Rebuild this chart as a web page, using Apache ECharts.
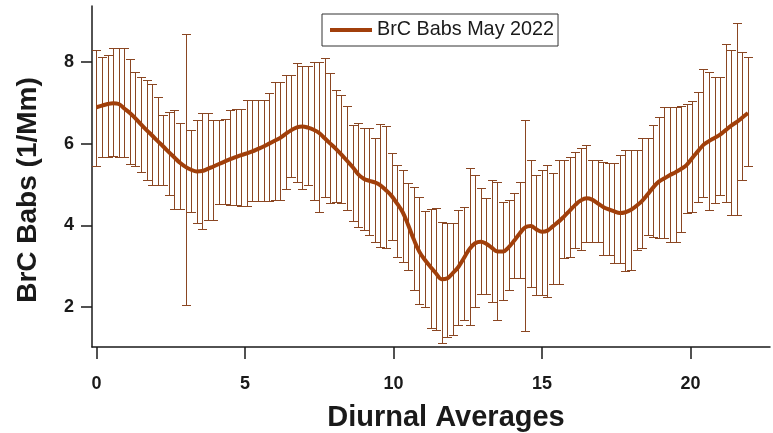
<!DOCTYPE html>
<html>
<head>
<meta charset="utf-8">
<script src="https://cdn.jsdelivr.net/npm/echarts@6/dist/echarts.min.js"></script>
<style>
  html, body { margin: 0; padding: 0; background: #ffffff; }
  #chart { width: 773px; height: 433px; }
</style>
</head>
<body>
<div id="chart"></div>
<script>
// Diurnal cycle of brown-carbon absorption, May 2022 (mean with spread bars)
const seriesName = 'BrC Babs May 2022';
const stepHours = 0.1875; // sampling step of the diurnal bins, in hours

const meanBabs = [
  6.89, 6.93, 6.97, 6.99, 6.97, 6.86, 6.75, 6.62, 6.47, 6.33,
  6.20, 6.06, 5.93, 5.79, 5.66, 5.53, 5.43, 5.36, 5.32, 5.33,
  5.38, 5.44, 5.50, 5.56, 5.62, 5.67, 5.72, 5.76, 5.81, 5.87,
  5.93, 6.00, 6.07, 6.14, 6.24, 6.33, 6.40, 6.42, 6.39, 6.34,
  6.26, 6.13, 6.00, 5.87, 5.73, 5.58, 5.43, 5.25, 5.14, 5.09,
  5.05, 4.98, 4.86, 4.72, 4.53, 4.32, 4.00, 3.65, 3.35, 3.15,
  2.98, 2.82, 2.68, 2.70, 2.83, 2.98, 3.20, 3.42, 3.56, 3.60,
  3.55, 3.45, 3.36, 3.36, 3.46, 3.62, 3.80, 3.95, 3.98, 3.90,
  3.84, 3.87, 3.98, 4.09, 4.22, 4.36, 4.50, 4.61, 4.66, 4.63,
  4.54, 4.45, 4.39, 4.34, 4.30, 4.32, 4.38, 4.48, 4.60, 4.76,
  4.93, 5.07, 5.15, 5.23, 5.30, 5.38, 5.48, 5.65, 5.81, 5.97,
  6.06, 6.14, 6.22, 6.33, 6.44, 6.53, 6.64, 6.75
];

const upperBabs = [
  8.29, 8.12, 8.17, 8.34, 8.34, 8.34, 8.07, 7.76, 7.64, 7.56,
  7.46, 7.15, 6.70, 6.78, 6.82, 6.50, 8.68, 6.33, 6.58, 6.74,
  6.74, 6.58, 6.58, 6.60, 6.82, 6.84, 6.86, 7.07, 7.07, 7.07,
  7.07, 7.23, 7.52, 7.52, 7.68, 7.68, 7.98, 7.89, 7.89, 8.01,
  8.01, 8.09, 7.72, 7.31, 7.19, 6.91, 6.46, 6.51, 6.38, 6.38,
  6.13, 6.48, 6.43, 5.78, 5.48, 5.35, 5.04, 4.95, 4.70, 4.36,
  4.39, 4.42, 4.09, 4.05, 4.05, 4.38, 4.46, 5.40, 5.23, 4.91,
  4.66, 5.11, 5.07, 4.58, 4.62, 4.78, 5.07, 6.58, 5.60, 5.23,
  5.35, 5.48, 5.27, 5.60, 5.60, 5.68, 5.80, 5.89, 5.97, 5.60,
  5.60, 5.56, 5.52, 5.52, 5.72, 5.84, 5.84, 5.84, 6.13, 6.13,
  6.46, 6.66, 6.89, 6.89, 6.89, 6.92, 6.97, 7.05, 7.27, 7.82,
  7.76, 7.64, 7.64, 8.44, 8.29, 8.96, 8.25, 8.11
];

const lowerBabs = [
  5.45, 5.68, 5.68, 5.70, 5.68, 5.68, 5.50, 5.45, 5.31, 5.11,
  4.99, 4.99, 4.99, 4.74, 4.39, 4.39, 2.05, 4.33, 4.05, 3.90,
  4.13, 4.13, 4.52, 4.52, 4.50, 4.50, 4.48, 4.48, 4.60, 4.60,
  4.60, 4.60, 4.62, 4.62, 4.90, 5.19, 5.05, 4.90, 4.99, 4.62,
  4.33, 4.70, 4.54, 4.58, 4.54, 4.38, 4.10, 3.97, 3.89, 3.76,
  3.60, 3.48, 3.44, 3.64, 3.23, 3.10, 2.90, 2.41, 2.08, 2.00,
  1.48, 1.44, 1.11, 1.27, 1.31, 1.56, 1.68, 1.56, 2.00, 2.33,
  2.33, 2.13, 1.68, 2.17, 2.41, 2.70, 2.70, 1.40, 2.50, 2.30,
  2.30, 2.25, 2.57, 2.57, 3.19, 3.23, 3.44, 3.40, 3.60, 3.60,
  3.60, 3.27, 3.27, 3.07, 3.07, 2.87, 2.90, 3.40, 3.44, 3.76,
  3.72, 3.68, 3.68, 3.60, 3.60, 3.84, 4.30, 4.33, 4.58, 4.70,
  4.38, 4.54, 4.74, 4.58, 4.25, 4.25, 5.11, 5.44
];

const xTickValues = [0, 5, 10, 15, 20];
const yTickValues = [2, 4, 6, 8];

const lineColor = '#a13f0b';
const barColor = '#8a4622';
const inkColor = '#1a1a1a';
const fontFamily = '"Liberation Sans", Arial, sans-serif';

const hours = meanBabs.map((_, i) => i * stepHours);
const meanPoints = hours.map((h, i) => [h, meanBabs[i]]);
const barPoints = hours.map((h, i) => [h, lowerBabs[i], upperBabs[i]]);

function renderErrorBar(params, api) {
  const x = api.value(0);
  const lo = api.coord([x, api.value(1)]);
  const hi = api.coord([x, api.value(2)]);
  const half = 4.5;
  const style = { stroke: barColor, lineWidth: 1 };
  const cx = Math.round(lo[0]) + 0.5;
  const yTop = Math.round(hi[1]) + 0.5;
  const yBot = Math.round(lo[1]) + 0.5;
  return {
    type: 'group',
    children: [
      { type: 'line', shape: { x1: cx, y1: yTop, x2: cx, y2: yBot }, style },
      { type: 'line', shape: { x1: cx - half, y1: yTop, x2: cx + half, y2: yTop }, style },
      { type: 'line', shape: { x1: cx - half, y1: yBot, x2: cx + half, y2: yBot }, style }
    ]
  };
}

const chart = echarts.init(document.getElementById('chart'), null, { renderer: 'canvas' });

chart.setOption({
  animation: false,
  backgroundColor: '#ffffff',
  grid: { left: 92, right: 3, top: 6, bottom: 86, containLabel: false },
  legend: {
    data: [seriesName],
    left: 322,
    top: 14,
    padding: [6, 4, 6, 8],
    itemGap: 0,
    itemWidth: 42,
    itemHeight: 4,
    icon: 'rect',
    borderColor: '#333333',
    borderWidth: 1,
    backgroundColor: '#ffffff',
    textStyle: { fontFamily: fontFamily, fontSize: 19.8, color: inkColor }
  },
  xAxis: {
    type: 'value',
    min: -0.15,
    max: 22.68,
    splitLine: { show: false },
    axisLine: { show: true, onZero: false, lineStyle: { color: inkColor, width: 1.5 } },
    axisTick: { show: true, length: 12, customValues: xTickValues, lineStyle: { color: inkColor, width: 1.5 } },
    axisLabel: {
      customValues: xTickValues,
      margin: 28,
      fontFamily: fontFamily,
      fontWeight: 'bold',
      fontSize: 18,
      color: inkColor
    }
  },
  yAxis: {
    type: 'value',
    min: 1.02,
    max: 9.37,
    splitLine: { show: false },
    axisLine: { show: true, onZero: false, lineStyle: { color: inkColor, width: 1.5 } },
    axisTick: { show: true, length: 11, customValues: yTickValues, lineStyle: { color: inkColor, width: 1.5 } },
    axisLabel: {
      customValues: yTickValues,
      margin: 18,
      fontFamily: fontFamily,
      fontWeight: 'bold',
      fontSize: 18,
      color: inkColor
    }
  },
  graphic: [
    {
      type: 'text',
      x: 28,
      y: 190,
      rotation: Math.PI / 2,
      style: {
        text: 'BrC Babs (1/Mm)',
        fontFamily: fontFamily,
        fontWeight: 'bold',
        fontSize: 28,
        fill: inkColor,
        textAlign: 'center',
        textVerticalAlign: 'middle'
      }
    },
    {
      type: 'text',
      x: 446,
      y: 418,
      style: {
        text: 'Diurnal Averages',
        fontFamily: fontFamily,
        fontWeight: 'bold',
        fontSize: 29,
        fill: inkColor,
        textAlign: 'center',
        textVerticalAlign: 'middle'
      }
    }
  ],
  series: [
    {
      type: 'custom',
      name: 'spread',
      renderItem: renderErrorBar,
      encode: { x: 0, y: [1, 2] },
      data: barPoints,
      z: 2,
      silent: true
    },
    {
      type: 'line',
      name: seriesName,
      data: meanPoints,
      smooth: 0.4,
      showSymbol: false,
      symbol: 'none',
      itemStyle: { color: lineColor },
      lineStyle: { color: lineColor, width: 4 },
      z: 3
    }
  ]
});
</script>
</body>
</html>
